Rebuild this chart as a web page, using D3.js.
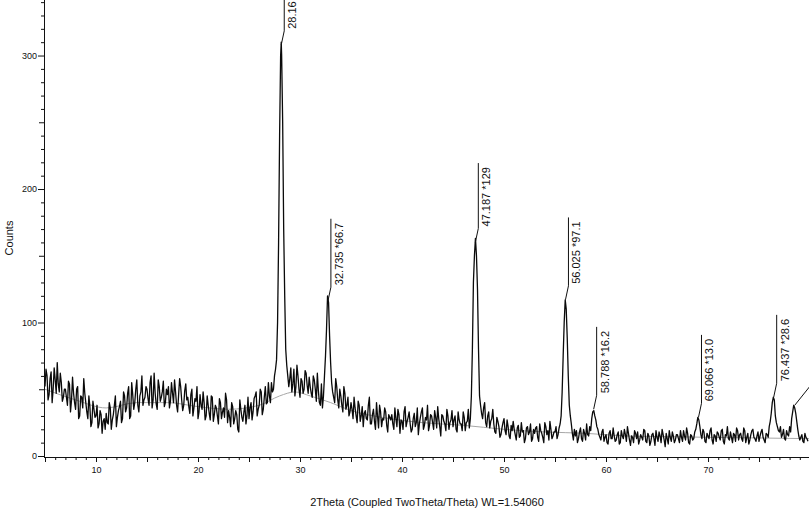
<!DOCTYPE html>
<html>
<head>
<meta charset="utf-8">
<script src="https://cdn.jsdelivr.net/npm/d3@7"></script>
<style>
  html, body { margin: 0; padding: 0; background: #fff; }
  svg { display: block; font-family: "Liberation Sans", Arial, sans-serif; }
</style>
</head>
<body>
<svg id="chart" width="809" height="510"></svg>
<script>
"use strict";

/* ── Data ──────────────────────────────────────────────────── */
// scan points at 5.0, 5.2, 5.4 ... (even) and 5.1, 5.3 ... (odd); one row per 2 degrees
const SCAN_START = 5.0;
const SCAN_STEP  = 0.2;

const SCAN_EVEN = [
  52,60,46,63,50,57,70,48,55,44,   // 5.0
  50,38,54,42,47,35,52,30,44,58,   // 7.0
  40,28,37,25,35,30,21,34,17,28,   // 9.0
  32,24,36,27,38,22,34,41,28,45,   // 11.0
  36,52,30,46,40,57,33,48,38,44,   // 13.0
  50,38,60,42,47,35,52,44,56,40,   // 15.0
  46,36,55,40,48,33,58,42,38,54,   // 17.0
  44,32,50,36,41,28,46,35,40,30,   // 19.0
  38,27,44,31,36,24,40,33,29,42,   // 21.0
  34,22,37,28,31,18,35,26,38,30,   // 23.0
  28,40,33,45,30,38,48,35,52,40,   // 25.0
  45,55,50,65,100,240,300,170,80,60, // 27.0
  58,48,65,52,60,44,56,50,62,47,   // 29.0
  52,44,57,41,49,38,36,60,95,115,  // 31.0
  70,48,40,52,36,45,33,47,38,30,   // 33.0
  40,28,36,25,38,30,22,34,27,44,   // 35.0
  24,35,20,30,38,22,27,33,18,29,   // 37.0
  31,20,28,35,17,26,33,22,29,24,   // 39.0
  20,32,25,16,29,36,23,27,19,31,   // 41.0
  25,34,21,28,15,30,24,35,20,27,   // 43.0
  22,30,18,27,24,33,19,26,21,45,   // 45.0
  130,163,125,45,32,36,25,30,21,28, // 47.0
  24,17,26,14,21,28,16,22,13,19,   // 49.0
  20,12,23,15,18,10,21,16,24,13,   // 51.0
  17,22,11,19,14,25,16,12,20,15,   // 53.0
  18,13,21,30,75,117,88,38,24,12,  // 55.0
  15,10,18,13,20,12,16,22,28,34,   // 57.0
  27,20,14,18,11,16,9,19,13,15,    // 59.0
  12,18,10,15,20,11,17,8,14,19,    // 61.0
  13,9,16,12,19,10,15,11,17,8,     // 63.0
  14,18,10,16,7,13,19,11,15,12,    // 65.0
  16,10,14,19,12,17,9,15,13,20,    // 67.0
  29,22,13,18,10,15,19,12,16,11,   // 69.0
  17,12,20,9,15,13,18,10,16,21,    // 71.0
  12,17,11,19,14,9,16,20,13,15,    // 73.0
  11,18,14,10,16,22,32,44,30,22,   // 75.0
  18,14,20,12,16,22,28,38,32,20,   // 77.0
  12,16,10,14,11                   // 79.0
];

const SCAN_ODD = [
  65,42,58,40,66,47,54,62,41,50,   // 5.1
  44,56,33,59,40,50,28,45,36,47,   // 7.1
  33,45,22,41,29,38,24,31,26,20,   // 9.1
  25,40,20,31,45,29,37,25,48,33,   // 11.1
  47,28,55,35,50,38,45,60,42,52,   // 13.1
  43,55,36,62,39,57,41,48,37,50,   // 15.1
  52,41,47,57,38,46,52,34,49,42,   // 17.1
  37,46,30,43,52,33,38,48,27,45,   // 19.1
  32,45,26,38,30,43,28,36,47,25,   // 21.1
  29,40,24,34,20,42,29,33,24,44,   // 23.1
  36,27,43,48,35,50,31,44,39,55,   // 25.1
  40,48,60,72,160,300,250,120,68,52, // 27.1
  66,54,45,68,50,58,47,64,53,59,   // 29.1
  47,60,50,62,40,54,45,75,120,90,  // 31.1
  55,44,58,42,50,38,52,35,44,33,   // 33.1
  35,44,30,41,26,37,32,28,38,24,   // 35.1
  31,26,40,21,33,28,36,23,31,27,   // 37.1
  24,36,22,31,27,20,37,26,33,18,   // 39.1
  28,22,36,24,33,20,29,38,23,30,   // 41.1
  20,29,37,22,31,26,19,30,25,34,   // 43.1
  27,20,33,24,19,29,25,35,28,80,   // 45.1
  150,150,80,38,28,40,22,33,26,35, // 47.1
  18,29,22,16,25,19,27,15,23,26,   // 49.1
  16,21,14,25,19,13,22,18,11,20,   // 51.1
  21,14,24,17,10,22,19,26,13,18,   // 53.1
  22,16,24,48,100,110,60,30,17,20, // 55.1
  19,13,21,11,17,24,15,19,33,30,   // 57.1
  22,16,12,20,14,10,17,13,21,11,   // 59.1
  16,9,19,13,16,22,12,15,10,17,    // 61.1
  18,12,14,20,11,17,8,16,13,19,    // 63.1
  11,15,20,12,17,9,14,18,10,16,    // 65.1
  13,19,11,15,21,10,16,12,18,24,   // 67.1
  27,16,20,11,17,13,21,9,15,18,    // 69.1
  14,19,11,16,22,12,14,17,11,19,   // 71.1
  16,13,21,10,17,12,19,14,11,18,   // 73.1
  15,20,12,17,14,26,40,42,25,19,   // 75.1
  22,16,13,19,15,18,33,36,26,15,   // 77.1
  14,11,17,13                      // 79.1
];

// apex of the main reflection
const PEAK_THETA  = [28.16];
const PEAK_COUNTS = [310];

// fitted background (grey)
const BG_THETA  = [5, 8, 11, 14, 17, 20, 23, 26, 28, 29.5, 31, 33, 35, 38,
                   42, 46, 50, 54, 58, 62, 66, 70, 75, 79.9];
const BG_COUNTS = [50, 42, 36, 40, 40, 37, 35, 38, 45, 48, 45, 40, 34, 29,
                   25, 23, 20, 18, 17, 15, 14.5, 14, 13.5, 13];

// peak annotations
const LABEL_TEXT   = ["28.16", "32.735 *66.7", "47.187 *129", "56.025 *97.1",
                      "58.788 *16.2", "69.066 *13.0", "76.437 *28.6", ""];
const LABEL_THETA  = [28.16, 32.735, 47.187, 56.025, 58.788, 69.066, 76.437, 78.5];
const LABEL_COUNTS = [308, 116, 160, 117, 35, 29, 44, 38];

const X_TICKS = [10, 20, 30, 40, 50, 60, 70];
const Y_TICKS = [0, 100, 200, 300];

const X_TITLE = "2Theta (Coupled TwoTheta/Theta) WL=1.54060";
const Y_TITLE = "Counts";

/* ── Layout ─────────────────────────────────────────────────── */
const X0 = 45, X1 = 809;
const Y_BASE = 456;     // pixel of 0 counts
const AXIS_Y = 457;

const svg = d3.select("#chart");

const x = d3.scaleLinear().domain([5, 79.9]).range([X0, X1]);
const y = d3.scaleLinear().domain([0, 341.6]).range([Y_BASE, 0]);

/* ── Clip ───────────────────────────────────────────────────── */
svg.append("clipPath").attr("id", "plot-clip")
  .append("rect").attr("x", X0).attr("y", 0).attr("width", X1 - X0).attr("height", AXIS_Y);

const plot = svg.append("g").attr("clip-path", "url(#plot-clip)");

/* background curve */
const bg = BG_THETA.map((t, i) => ({ t, c: BG_COUNTS[i] }));
plot.append("path")
  .datum(bg)
  .attr("fill", "none")
  .attr("stroke", "#a8a8a8")
  .attr("stroke-width", 1)
  .attr("d", d3.line().x(d => x(d.t)).y(d => y(d.c)).curve(d3.curveMonotoneX));

/* scan */
const scan = SCAN_EVEN.map((c, i) => ({ t: SCAN_START + i * SCAN_STEP, c }))
  .concat(SCAN_ODD.map((c, i) => ({ t: SCAN_START + SCAN_STEP / 2 + i * SCAN_STEP, c })))
  .concat(PEAK_THETA.map((t, i) => ({ t, c: PEAK_COUNTS[i] })))
  .sort((a, b) => a.t - b.t);

plot.append("path")
  .datum(scan)
  .attr("fill", "none")
  .attr("stroke", "#0a0a0a")
  .attr("stroke-width", 1.3)
  .attr("stroke-linejoin", "round")
  .attr("d", d3.line().x(d => x(d.t)).y(d => y(d.c)));

/* ── Axes ───────────────────────────────────────────────────── */
function styleAxis(g) {
  g.select(".domain").remove();
  g.selectAll("line").attr("stroke", "#111");
  g.selectAll("text")
    .attr("fill", "#111")
    .style("font-family", '"Liberation Sans", Arial, sans-serif')
    .style("font-size", "9px");
}

const xMinor = d3.range(5, 80, 1).filter(v => v % 5 !== 0);
const xMid   = d3.range(5, 80, 5).filter(v => v % 10 !== 0);

const xg = svg.append("g").attr("transform", `translate(0,${AXIS_Y})`);
xg.append("g").call(d3.axisBottom(x).tickValues(xMinor).tickSize(3).tickFormat("")).call(styleAxis);
xg.append("g").call(d3.axisBottom(x).tickValues(xMid).tickSize(5).tickFormat("")).call(styleAxis);
xg.append("g").call(d3.axisBottom(x).tickValues(X_TICKS).tickSize(5).tickPadding(5)).call(styleAxis);
xg.append("line")
  .attr("x1", X0).attr("x2", X1).attr("y1", 0.5).attr("y2", 0.5)
  .attr("stroke", "#111");

const yMinor = d3.range(10, 342, 10).filter(v => v % 50 !== 0);
const yMid   = [50, 150, 250];

const yg = svg.append("g").attr("transform", `translate(${X0 - 1},0)`);
yg.append("g").call(d3.axisLeft(y).tickValues(yMinor).tickSize(3).tickFormat("")).call(styleAxis);
yg.append("g").call(d3.axisLeft(y).tickValues(yMid).tickSize(5).tickFormat("")).call(styleAxis);
yg.append("g").call(d3.axisLeft(y).tickValues(Y_TICKS).tickSize(6).tickPadding(1)).call(styleAxis);
yg.append("line")
  .attr("x1", 0.5).attr("x2", 0.5).attr("y1", 0).attr("y2", AXIS_Y + 1)
  .attr("stroke", "#111");

/* titles */
svg.append("text")
  .attr("x", 427).attr("y", 506)
  .attr("text-anchor", "middle")
  .attr("font-size", 11)
  .attr("fill", "#111")
  .text(X_TITLE);

svg.append("text")
  .attr("transform", "translate(13,238) rotate(-90)")
  .attr("text-anchor", "middle")
  .attr("font-size", 11)
  .attr("fill", "#111")
  .text(Y_TITLE);

/* ── Peak labels ─────────────────────────────────────────────── */
const ann = svg.append("g");
LABEL_TEXT.forEach((txt, i) => {
  const px = x(LABEL_THETA[i]);
  const py = y(LABEL_COUNTS[i]);
  const cutOff = txt === "";
  const lx = px + (cutOff ? 16 : 3);
  const ly = py - (cutOff ? 20 : 14);

  const t = ann.append("text")
    .attr("transform", `translate(${lx + 12},${ly - 2}) rotate(-90)`)
    .attr("font-size", 11)
    .attr("fill", "#111")
    .text(txt);
  const len = cutOff ? 60 : t.node().getComputedTextLength();

  ann.append("path")
    .attr("fill", "none")
    .attr("stroke", "#111")
    .attr("stroke-width", 1)
    .attr("d", `M${px},${py} L${lx},${ly} L${lx},${ly - len - 6}`);
});
</script>
</body>
</html>
